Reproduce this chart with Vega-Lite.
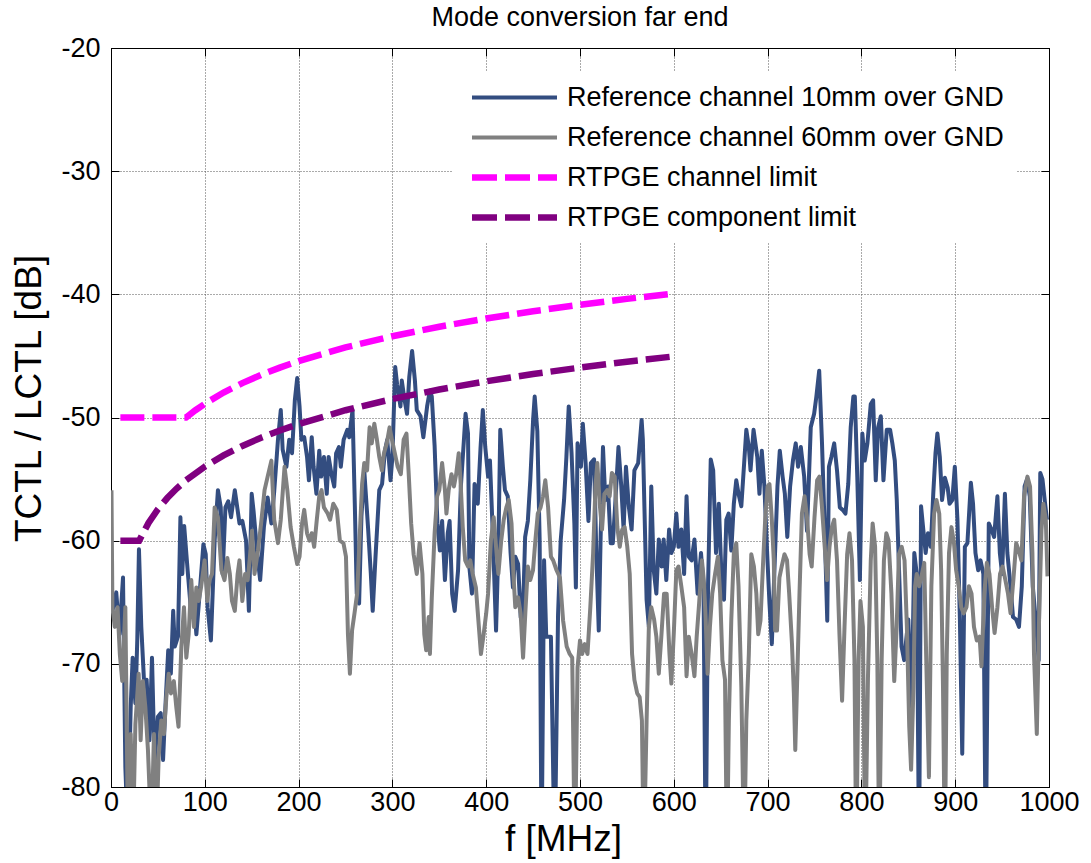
{
  "$schema": "https://vega.github.io/schema/vega-lite/v6.json",
  "width": 938,
  "height": 739,
  "autosize": {"type": "none"},
  "padding": {"left": 111, "top": 48, "right": 42, "bottom": 76},
  "background": "white",
  "title": {"text": "Mode conversion far end", "fontSize": 27, "font": "Liberation Sans", "fontWeight": "normal", "color": "black", "offset": 2, "anchor": "middle"},
  "datasets": {
    "traces": [
      {"s":"10mm","f":1,"v":-65.9},{"s":"10mm","f":5.6,"v":-64.2},{"s":"10mm","f":9,"v":-67.6},{"s":"10mm","f":12.8,"v":-63},{"s":"10mm","f":15.3,"v":-78.4},{"s":"10mm","f":18,"v":-84},{"s":"10mm","f":21,"v":-73.5},{"s":"10mm","f":23.1,"v":-69.5},{"s":"10mm","f":26,"v":-73.2},{"s":"10mm","f":28,"v":-68.1},{"s":"10mm","f":29.8,"v":-60.7},{"s":"10mm","f":32.3,"v":-67},{"s":"10mm","f":35.2,"v":-71.4},{"s":"10mm","f":38,"v":-71.3},{"s":"10mm","f":41,"v":-76.2},{"s":"10mm","f":43.7,"v":-69.5},{"s":"10mm","f":46.5,"v":-78.1},{"s":"10mm","f":50,"v":-74.3},{"s":"10mm","f":53,"v":-74},{"s":"10mm","f":55.5,"v":-77.8},{"s":"10mm","f":58,"v":-73.5},{"s":"10mm","f":61,"v":-68.9},{"s":"10mm","f":63.8,"v":-70.8},{"s":"10mm","f":66.3,"v":-65.7},{"s":"10mm","f":68,"v":-68.6},{"s":"10mm","f":71.4,"v":-67.8},{"s":"10mm","f":74,"v":-58.1},{"s":"10mm","f":76,"v":-62.7},{"s":"10mm","f":78,"v":-58.8},{"s":"10mm","f":82,"v":-62.7},{"s":"10mm","f":85.6,"v":-66},{"s":"10mm","f":88,"v":-64.6},{"s":"10mm","f":91,"v":-67.6},{"s":"10mm","f":95,"v":-63.8},{"s":"10mm","f":98.5,"v":-60.3},{"s":"10mm","f":101,"v":-61.1},{"s":"10mm","f":103,"v":-65.4},{"s":"10mm","f":106.5,"v":-68.1},{"s":"10mm","f":110.5,"v":-60},{"s":"10mm","f":114,"v":-55.9},{"s":"10mm","f":117,"v":-57.3},{"s":"10mm","f":119,"v":-62.7},{"s":"10mm","f":122,"v":-57.3},{"s":"10mm","f":125,"v":-56.8},{"s":"10mm","f":128,"v":-58.1},{"s":"10mm","f":132,"v":-55.9},{"s":"10mm","f":137,"v":-58.6},{"s":"10mm","f":140,"v":-58.4},{"s":"10mm","f":144,"v":-60},{"s":"10mm","f":147,"v":-65.7},{"s":"10mm","f":150,"v":-56.2},{"s":"10mm","f":152,"v":-57.6},{"s":"10mm","f":156,"v":-61.1},{"s":"10mm","f":159,"v":-63.2},{"s":"10mm","f":163,"v":-58.9},{"s":"10mm","f":167,"v":-56.5},{"s":"10mm","f":171,"v":-58.6},{"s":"10mm","f":174,"v":-56},{"s":"10mm","f":178,"v":-51.8},{"s":"10mm","f":181,"v":-49.4},{"s":"10mm","f":183,"v":-52.6},{"s":"10mm","f":187,"v":-54},{"s":"10mm","f":190,"v":-51.8},{"s":"10mm","f":193,"v":-52.9},{"s":"10mm","f":196,"v":-48.6},{"s":"10mm","f":198.5,"v":-46.8},{"s":"10mm","f":201,"v":-49.1},{"s":"10mm","f":203,"v":-51.8},{"s":"10mm","f":206,"v":-51.6},{"s":"10mm","f":209,"v":-53.2},{"s":"10mm","f":211,"v":-55.1},{"s":"10mm","f":214,"v":-51.6},{"s":"10mm","f":216,"v":-54},{"s":"10mm","f":219,"v":-56.2},{"s":"10mm","f":222,"v":-52.7},{"s":"10mm","f":224,"v":-54.8},{"s":"10mm","f":227,"v":-53.2},{"s":"10mm","f":230,"v":-56.2},{"s":"10mm","f":232,"v":-53.2},{"s":"10mm","f":235,"v":-54.6},{"s":"10mm","f":238,"v":-55.6},{"s":"10mm","f":240,"v":-52.9},{"s":"10mm","f":243,"v":-52.4},{"s":"10mm","f":245,"v":-54},{"s":"10mm","f":248,"v":-51.8},{"s":"10mm","f":252,"v":-51},{"s":"10mm","f":254,"v":-51.6},{"s":"10mm","f":257.5,"v":-49.4},{"s":"10mm","f":260,"v":-57.3},{"s":"10mm","f":262,"v":-64.3},{"s":"10mm","f":264.5,"v":-65.1},{"s":"10mm","f":267,"v":-58},{"s":"10mm","f":270,"v":-54.3},{"s":"10mm","f":274,"v":-58.9},{"s":"10mm","f":277,"v":-62.7},{"s":"10mm","f":279,"v":-65.7},{"s":"10mm","f":282,"v":-61.3},{"s":"10mm","f":286,"v":-55.9},{"s":"10mm","f":289,"v":-55.4},{"s":"10mm","f":292,"v":-52.7},{"s":"10mm","f":294.5,"v":-51.8},{"s":"10mm","f":298,"v":-55.1},{"s":"10mm","f":300,"v":-53.2},{"s":"10mm","f":303,"v":-45.9},{"s":"10mm","f":305,"v":-47.3},{"s":"10mm","f":308.6,"v":-49.1},{"s":"10mm","f":310,"v":-47},{"s":"10mm","f":313,"v":-48.6},{"s":"10mm","f":315.6,"v":-49.7},{"s":"10mm","f":318,"v":-46.7},{"s":"10mm","f":321,"v":-44.6},{"s":"10mm","f":324,"v":-47},{"s":"10mm","f":326,"v":-49.4},{"s":"10mm","f":330,"v":-49.9},{"s":"10mm","f":333,"v":-51.6},{"s":"10mm","f":337,"v":-49.1},{"s":"10mm","f":340,"v":-47.8},{"s":"10mm","f":342,"v":-48.3},{"s":"10mm","f":345,"v":-52.3},{"s":"10mm","f":348,"v":-58.6},{"s":"10mm","f":350.6,"v":-60.8},{"s":"10mm","f":353,"v":-58.4},{"s":"10mm","f":356,"v":-63.2},{"s":"10mm","f":359,"v":-59.4},{"s":"10mm","f":361,"v":-58.4},{"s":"10mm","f":363.7,"v":-64.3},{"s":"10mm","f":366.4,"v":-65.7},{"s":"10mm","f":370,"v":-62.4},{"s":"10mm","f":373,"v":-55.6},{"s":"10mm","f":376,"v":-52.1},{"s":"10mm","f":378,"v":-49.7},{"s":"10mm","f":380.6,"v":-51.3},{"s":"10mm","f":382,"v":-62.1},{"s":"10mm","f":384.8,"v":-64.3},{"s":"10mm","f":387.6,"v":-55.4},{"s":"10mm","f":391,"v":-57},{"s":"10mm","f":394,"v":-52.4},{"s":"10mm","f":396.4,"v":-49.4},{"s":"10mm","f":399,"v":-52.4},{"s":"10mm","f":402,"v":-54.8},{"s":"10mm","f":404,"v":-53.5},{"s":"10mm","f":407,"v":-59.4},{"s":"10mm","f":410.5,"v":-67.3},{"s":"10mm","f":413,"v":-60.5},{"s":"10mm","f":415,"v":-51},{"s":"10mm","f":417.8,"v":-54},{"s":"10mm","f":420,"v":-55.9},{"s":"10mm","f":423,"v":-56.4},{"s":"10mm","f":426,"v":-61},{"s":"10mm","f":428.5,"v":-63.8},{"s":"10mm","f":431,"v":-61.3},{"s":"10mm","f":434,"v":-61.9},{"s":"10mm","f":436.8,"v":-66.2},{"s":"10mm","f":439,"v":-66.5},{"s":"10mm","f":441.5,"v":-59.7},{"s":"10mm","f":444.4,"v":-58.4},{"s":"10mm","f":447,"v":-55.1},{"s":"10mm","f":450,"v":-50.2},{"s":"10mm","f":451.7,"v":-48.3},{"s":"10mm","f":454.5,"v":-51.1},{"s":"10mm","f":457,"v":-60},{"s":"10mm","f":459,"v":-86},{"s":"10mm","f":461.7,"v":-61.6},{"s":"10mm","f":464,"v":-67.8},{"s":"10mm","f":469,"v":-67.8},{"s":"10mm","f":473,"v":-86},{"s":"10mm","f":476.6,"v":-66},{"s":"10mm","f":479.4,"v":-60},{"s":"10mm","f":483,"v":-56.7},{"s":"10mm","f":485.5,"v":-53.2},{"s":"10mm","f":488,"v":-49.1},{"s":"10mm","f":491,"v":-52.9},{"s":"10mm","f":494,"v":-58.6},{"s":"10mm","f":495.6,"v":-63.8},{"s":"10mm","f":497.4,"v":-52.1},{"s":"10mm","f":501,"v":-54},{"s":"10mm","f":503,"v":-50.5},{"s":"10mm","f":506,"v":-53.7},{"s":"10mm","f":509,"v":-58.4},{"s":"10mm","f":511.6,"v":-53.7},{"s":"10mm","f":515,"v":-53.4},{"s":"10mm","f":517.4,"v":-61},{"s":"10mm","f":520,"v":-67.3},{"s":"10mm","f":522,"v":-59.7},{"s":"10mm","f":524.5,"v":-52.4},{"s":"10mm","f":527,"v":-56.7},{"s":"10mm","f":529.8,"v":-55.6},{"s":"10mm","f":532.7,"v":-60.2},{"s":"10mm","f":535,"v":-60.2},{"s":"10mm","f":537.6,"v":-57},{"s":"10mm","f":541,"v":-52.4},{"s":"10mm","f":544,"v":-55.6},{"s":"10mm","f":546.5,"v":-59.1},{"s":"10mm","f":549,"v":-54},{"s":"10mm","f":552,"v":-57.2},{"s":"10mm","f":555,"v":-59.1},{"s":"10mm","f":558,"v":-54.3},{"s":"10mm","f":562,"v":-53.7},{"s":"10mm","f":565.7,"v":-50.2},{"s":"10mm","f":567,"v":-51.8},{"s":"10mm","f":571,"v":-64.8},{"s":"10mm","f":573.4,"v":-67},{"s":"10mm","f":576,"v":-55.6},{"s":"10mm","f":578.6,"v":-62.4},{"s":"10mm","f":581.4,"v":-64.3},{"s":"10mm","f":584,"v":-59.9},{"s":"10mm","f":587,"v":-62.1},{"s":"10mm","f":589.2,"v":-59.9},{"s":"10mm","f":592,"v":-63.2},{"s":"10mm","f":595,"v":-59.1},{"s":"10mm","f":597.4,"v":-61},{"s":"10mm","f":600,"v":-60.5},{"s":"10mm","f":602.7,"v":-57.8},{"s":"10mm","f":605,"v":-60.5},{"s":"10mm","f":608,"v":-59.1},{"s":"10mm","f":611,"v":-62.7},{"s":"10mm","f":613.6,"v":-56.4},{"s":"10mm","f":616,"v":-61.3},{"s":"10mm","f":619,"v":-61.6},{"s":"10mm","f":622,"v":-59.9},{"s":"10mm","f":625.4,"v":-64.3},{"s":"10mm","f":629,"v":-61},{"s":"10mm","f":631.7,"v":-63.7},{"s":"10mm","f":634,"v":-86},{"s":"10mm","f":636.5,"v":-63.7},{"s":"10mm","f":639.4,"v":-53.4},{"s":"10mm","f":642,"v":-54.3},{"s":"10mm","f":645,"v":-61},{"s":"10mm","f":648,"v":-57},{"s":"10mm","f":650.6,"v":-62.4},{"s":"10mm","f":653.5,"v":-64.8},{"s":"10mm","f":656,"v":-58.3},{"s":"10mm","f":658.5,"v":-57.8},{"s":"10mm","f":661.3,"v":-60.8},{"s":"10mm","f":664,"v":-57},{"s":"10mm","f":666.6,"v":-55.1},{"s":"10mm","f":669,"v":-56.2},{"s":"10mm","f":672,"v":-57.2},{"s":"10mm","f":675,"v":-53.7},{"s":"10mm","f":677.3,"v":-51},{"s":"10mm","f":680,"v":-52.4},{"s":"10mm","f":681.8,"v":-54.3},{"s":"10mm","f":685,"v":-51},{"s":"10mm","f":689,"v":-53.2},{"s":"10mm","f":691.3,"v":-56.2},{"s":"10mm","f":693.8,"v":-52.7},{"s":"10mm","f":696.6,"v":-55.6},{"s":"10mm","f":699.4,"v":-60.8},{"s":"10mm","f":702,"v":-65.1},{"s":"10mm","f":704.5,"v":-68.4},{"s":"10mm","f":707,"v":-63},{"s":"10mm","f":710.5,"v":-55.6},{"s":"10mm","f":713,"v":-52.7},{"s":"10mm","f":716,"v":-54.8},{"s":"10mm","f":718.4,"v":-56.2},{"s":"10mm","f":721,"v":-59.7},{"s":"10mm","f":724,"v":-55.6},{"s":"10mm","f":727,"v":-53.5},{"s":"10mm","f":730,"v":-52.1},{"s":"10mm","f":732.5,"v":-54},{"s":"10mm","f":735.4,"v":-52.4},{"s":"10mm","f":739,"v":-54.8},{"s":"10mm","f":742,"v":-59.2},{"s":"10mm","f":746,"v":-50.8},{"s":"10mm","f":749.6,"v":-49.7},{"s":"10mm","f":752,"v":-48.3},{"s":"10mm","f":755,"v":-46.2},{"s":"10mm","f":758,"v":-52.1},{"s":"10mm","f":760.8,"v":-58.9},{"s":"10mm","f":763.6,"v":-66.5},{"s":"10mm","f":765.4,"v":-54},{"s":"10mm","f":768,"v":-53.2},{"s":"10mm","f":771,"v":-52.1},{"s":"10mm","f":774,"v":-54.3},{"s":"10mm","f":777,"v":-57.3},{"s":"10mm","f":780,"v":-57.5},{"s":"10mm","f":783,"v":-57.8},{"s":"10mm","f":786,"v":-55.4},{"s":"10mm","f":788.6,"v":-50.8},{"s":"10mm","f":791.4,"v":-48.3},{"s":"10mm","f":793,"v":-48.3},{"s":"10mm","f":795.6,"v":-54.8},{"s":"10mm","f":798.4,"v":-63.2},{"s":"10mm","f":801,"v":-51.3},{"s":"10mm","f":803.5,"v":-53.5},{"s":"10mm","f":806.4,"v":-52.1},{"s":"10mm","f":810,"v":-48.9},{"s":"10mm","f":812.5,"v":-48.6},{"s":"10mm","f":815.3,"v":-55.1},{"s":"10mm","f":817.8,"v":-50.8},{"s":"10mm","f":820.7,"v":-49.9},{"s":"10mm","f":823.5,"v":-55.1},{"s":"10mm","f":827,"v":-51},{"s":"10mm","f":830.6,"v":-51},{"s":"10mm","f":833,"v":-52.1},{"s":"10mm","f":835.6,"v":-53.5},{"s":"10mm","f":837.7,"v":-56.7},{"s":"10mm","f":840,"v":-62.1},{"s":"10mm","f":842.8,"v":-68.6},{"s":"10mm","f":845.6,"v":-69.7},{"s":"10mm","f":850,"v":-66.4},{"s":"10mm","f":853.5,"v":-73.5},{"s":"10mm","f":856.4,"v":-61},{"s":"10mm","f":859,"v":-62.7},{"s":"10mm","f":861.5,"v":-86},{"s":"10mm","f":863.6,"v":-57.2},{"s":"10mm","f":866,"v":-59.1},{"s":"10mm","f":868.5,"v":-61},{"s":"10mm","f":871,"v":-59.4},{"s":"10mm","f":874,"v":-60.5},{"s":"10mm","f":876.6,"v":-56.2},{"s":"10mm","f":879,"v":-52.9},{"s":"10mm","f":881,"v":-51.3},{"s":"10mm","f":883.6,"v":-53.2},{"s":"10mm","f":886,"v":-56.7},{"s":"10mm","f":889,"v":-54.9},{"s":"10mm","f":892,"v":-55.7},{"s":"10mm","f":894,"v":-57},{"s":"10mm","f":896.9,"v":-56.7},{"s":"10mm","f":899.6,"v":-54},{"s":"10mm","f":902.4,"v":-58.3},{"s":"10mm","f":905,"v":-66.4},{"s":"10mm","f":907.5,"v":-77.3},{"s":"10mm","f":910.3,"v":-60.5},{"s":"10mm","f":913,"v":-60.2},{"s":"10mm","f":916.7,"v":-55.3},{"s":"10mm","f":919,"v":-57},{"s":"10mm","f":921.6,"v":-61},{"s":"10mm","f":924.5,"v":-62.4},{"s":"10mm","f":927,"v":-61.6},{"s":"10mm","f":930,"v":-62.7},{"s":"10mm","f":932.6,"v":-86},{"s":"10mm","f":935.8,"v":-58.6},{"s":"10mm","f":938.7,"v":-59.1},{"s":"10mm","f":941.5,"v":-59.7},{"s":"10mm","f":945,"v":-56.4},{"s":"10mm","f":947.6,"v":-61},{"s":"10mm","f":950,"v":-62.7},{"s":"10mm","f":953,"v":-56.2},{"s":"10mm","f":955.6,"v":-61},{"s":"10mm","f":959,"v":-63.7},{"s":"10mm","f":961.6,"v":-66.2},{"s":"10mm","f":965,"v":-66.4},{"s":"10mm","f":968,"v":-67},{"s":"10mm","f":971,"v":-63.7},{"s":"10mm","f":974,"v":-55.6},{"s":"10mm","f":976.6,"v":-55},{"s":"10mm","f":979.5,"v":-56.4},{"s":"10mm","f":982.7,"v":-63.7},{"s":"10mm","f":987,"v":-67.5},{"s":"10mm","f":989,"v":-69.7},{"s":"10mm","f":990.7,"v":-54.5},{"s":"10mm","f":993,"v":-55},{"s":"10mm","f":995.7,"v":-56.9},{"s":"10mm","f":997.8,"v":-58.3},

      {"s":"60mm","f":0.5,"v":-55.9},{"s":"60mm","f":1.5,"v":-65.4},{"s":"60mm","f":4,"v":-67},{"s":"60mm","f":7,"v":-65.4},{"s":"60mm","f":9.4,"v":-69.2},{"s":"60mm","f":12,"v":-71.4},{"s":"60mm","f":15.3,"v":-65.4},{"s":"60mm","f":18.1,"v":-84},{"s":"60mm","f":21,"v":-75.7},{"s":"60mm","f":23.5,"v":-84},{"s":"60mm","f":26,"v":-74.9},{"s":"60mm","f":29.5,"v":-70.8},{"s":"60mm","f":31.6,"v":-76.2},{"s":"60mm","f":34,"v":-71.4},{"s":"60mm","f":36.6,"v":-73.5},{"s":"60mm","f":39.4,"v":-77},{"s":"60mm","f":43,"v":-84},{"s":"60mm","f":45.8,"v":-75.7},{"s":"60mm","f":48.3,"v":-84},{"s":"60mm","f":50.8,"v":-77.6},{"s":"60mm","f":53.6,"v":-74.6},{"s":"60mm","f":56.4,"v":-75.7},{"s":"60mm","f":59,"v":-72.7},{"s":"60mm","f":61.5,"v":-70.8},{"s":"60mm","f":64,"v":-72.4},{"s":"60mm","f":67,"v":-71.4},{"s":"60mm","f":69.6,"v":-73.5},{"s":"60mm","f":72,"v":-75.1},{"s":"60mm","f":75,"v":-68.6},{"s":"60mm","f":77.8,"v":-65.4},{"s":"60mm","f":80.3,"v":-69.5},{"s":"60mm","f":82.8,"v":-67.6},{"s":"60mm","f":85.6,"v":-63.2},{"s":"60mm","f":88.4,"v":-67},{"s":"60mm","f":91,"v":-63.8},{"s":"60mm","f":93.5,"v":-64.9},{"s":"60mm","f":96,"v":-63.8},{"s":"60mm","f":99.8,"v":-61.6},{"s":"60mm","f":102.7,"v":-64.9},{"s":"60mm","f":105,"v":-63.2},{"s":"60mm","f":107.7,"v":-62.7},{"s":"60mm","f":110.5,"v":-57.3},{"s":"60mm","f":114,"v":-58.1},{"s":"60mm","f":117.7,"v":-62.4},{"s":"60mm","f":121,"v":-63.2},{"s":"60mm","f":124,"v":-61.4},{"s":"60mm","f":126.7,"v":-62.7},{"s":"60mm","f":129,"v":-64.9},{"s":"60mm","f":132,"v":-65.7},{"s":"60mm","f":135,"v":-62.7},{"s":"60mm","f":137,"v":-61.6},{"s":"60mm","f":140,"v":-64.9},{"s":"60mm","f":143,"v":-62.7},{"s":"60mm","f":145.7,"v":-63.2},{"s":"60mm","f":148,"v":-61.4},{"s":"60mm","f":150.3,"v":-59.2},{"s":"60mm","f":153,"v":-62.7},{"s":"60mm","f":156.7,"v":-60.8},{"s":"60mm","f":160,"v":-58.6},{"s":"60mm","f":163.7,"v":-55.9},{"s":"60mm","f":167,"v":-54.8},{"s":"60mm","f":171,"v":-53.5},{"s":"60mm","f":174,"v":-58.3},{"s":"60mm","f":178,"v":-60.2},{"s":"60mm","f":181,"v":-58.3},{"s":"60mm","f":185,"v":-54},{"s":"60mm","f":188,"v":-55.9},{"s":"60mm","f":191.5,"v":-58.9},{"s":"60mm","f":195,"v":-60.5},{"s":"60mm","f":198.5,"v":-61.9},{"s":"60mm","f":201,"v":-61.3},{"s":"60mm","f":203.7,"v":-58.6},{"s":"60mm","f":206,"v":-57.5},{"s":"60mm","f":209,"v":-59.4},{"s":"60mm","f":211.6,"v":-60},{"s":"60mm","f":214,"v":-59.4},{"s":"60mm","f":216.6,"v":-60.5},{"s":"60mm","f":219.4,"v":-58.3},{"s":"60mm","f":222,"v":-56.4},{"s":"60mm","f":224.5,"v":-55.9},{"s":"60mm","f":227,"v":-57.3},{"s":"60mm","f":231,"v":-57.8},{"s":"60mm","f":233.6,"v":-58.3},{"s":"60mm","f":237,"v":-57},{"s":"60mm","f":240.7,"v":-57.5},{"s":"60mm","f":244,"v":-60},{"s":"60mm","f":247.8,"v":-60.2},{"s":"60mm","f":250.5,"v":-61.3},{"s":"60mm","f":252.6,"v":-67.6},{"s":"60mm","f":254.7,"v":-70.8},{"s":"60mm","f":257,"v":-67.3},{"s":"60mm","f":259.6,"v":-65.9},{"s":"60mm","f":262.4,"v":-64.3},{"s":"60mm","f":265.3,"v":-59.4},{"s":"60mm","f":267.7,"v":-55.4},{"s":"60mm","f":270,"v":-53.7},{"s":"60mm","f":273,"v":-54.3},{"s":"60mm","f":275.7,"v":-50.8},{"s":"60mm","f":278,"v":-52.1},{"s":"60mm","f":280.7,"v":-50.5},{"s":"60mm","f":283.5,"v":-51.8},{"s":"60mm","f":286,"v":-53.2},{"s":"60mm","f":288.8,"v":-54.3},{"s":"60mm","f":291,"v":-52.9},{"s":"60mm","f":294,"v":-52.1},{"s":"60mm","f":297,"v":-50.8},{"s":"60mm","f":299.5,"v":-51.8},{"s":"60mm","f":302,"v":-52.7},{"s":"60mm","f":305.6,"v":-54},{"s":"60mm","f":309,"v":-54.6},{"s":"60mm","f":312,"v":-51.8},{"s":"60mm","f":315,"v":-51.3},{"s":"60mm","f":317.4,"v":-54.6},{"s":"60mm","f":320,"v":-58.6},{"s":"60mm","f":322.6,"v":-61.1},{"s":"60mm","f":326,"v":-62.7},{"s":"60mm","f":329,"v":-60.2},{"s":"60mm","f":332,"v":-62.7},{"s":"60mm","f":334,"v":-67.6},{"s":"60mm","f":336,"v":-68.9},{"s":"60mm","f":338.7,"v":-66.2},{"s":"60mm","f":340,"v":-69.2},{"s":"60mm","f":342,"v":-64.6},{"s":"60mm","f":345,"v":-59.4},{"s":"60mm","f":347.7,"v":-56.4},{"s":"60mm","f":350,"v":-55.9},{"s":"60mm","f":353,"v":-53.7},{"s":"60mm","f":356,"v":-55.9},{"s":"60mm","f":357.6,"v":-57.8},{"s":"60mm","f":360,"v":-55.9},{"s":"60mm","f":363,"v":-54.6},{"s":"60mm","f":365.6,"v":-55.6},{"s":"60mm","f":368,"v":-54.6},{"s":"60mm","f":370.7,"v":-52.9},{"s":"60mm","f":372.6,"v":-55.1},{"s":"60mm","f":375,"v":-58.9},{"s":"60mm","f":377.6,"v":-61.6},{"s":"60mm","f":380.6,"v":-62.1},{"s":"60mm","f":383,"v":-61.6},{"s":"60mm","f":385.6,"v":-62.7},{"s":"60mm","f":389,"v":-63.8},{"s":"60mm","f":391.7,"v":-66.5},{"s":"60mm","f":394.4,"v":-69.2},{"s":"60mm","f":397.3,"v":-67.6},{"s":"60mm","f":400,"v":-65.9},{"s":"60mm","f":402,"v":-64.3},{"s":"60mm","f":405,"v":-60},{"s":"60mm","f":408,"v":-58.1},{"s":"60mm","f":410.5,"v":-60.5},{"s":"60mm","f":413,"v":-62.7},{"s":"60mm","f":416,"v":-60},{"s":"60mm","f":418.7,"v":-58.3},{"s":"60mm","f":421.5,"v":-57.3},{"s":"60mm","f":424,"v":-56.7},{"s":"60mm","f":427,"v":-58.6},{"s":"60mm","f":429,"v":-62.7},{"s":"60mm","f":431,"v":-65.4},{"s":"60mm","f":434,"v":-64.6},{"s":"60mm","f":436.7,"v":-65.9},{"s":"60mm","f":439.3,"v":-69.5},{"s":"60mm","f":441.7,"v":-65.9},{"s":"60mm","f":444.4,"v":-62.1},{"s":"60mm","f":447,"v":-63.2},{"s":"60mm","f":449.9,"v":-62.4},{"s":"60mm","f":452.4,"v":-60},{"s":"60mm","f":455,"v":-57.8},{"s":"60mm","f":458,"v":-57.3},{"s":"60mm","f":460.6,"v":-56.4},{"s":"60mm","f":463,"v":-55.1},{"s":"60mm","f":466,"v":-57.3},{"s":"60mm","f":469,"v":-61.3},{"s":"60mm","f":471.4,"v":-61.6},{"s":"60mm","f":475,"v":-62.4},{"s":"60mm","f":478.6,"v":-63},{"s":"60mm","f":482,"v":-66.5},{"s":"60mm","f":485.8,"v":-68.6},{"s":"60mm","f":489,"v":-69.2},{"s":"60mm","f":491.7,"v":-69.5},{"s":"60mm","f":494.5,"v":-86},{"s":"60mm","f":497.4,"v":-70.3},{"s":"60mm","f":500,"v":-68.1},{"s":"60mm","f":502.3,"v":-69.2},{"s":"60mm","f":505,"v":-68.4},{"s":"60mm","f":508,"v":-69.2},{"s":"60mm","f":511,"v":-65.4},{"s":"60mm","f":514,"v":-61},{"s":"60mm","f":516.5,"v":-55.6},{"s":"60mm","f":518.5,"v":-53.7},{"s":"60mm","f":521,"v":-57},{"s":"60mm","f":523.5,"v":-59.1},{"s":"60mm","f":526,"v":-56.2},{"s":"60mm","f":529,"v":-55.9},{"s":"60mm","f":531.6,"v":-56.4},{"s":"60mm","f":534,"v":-54.5},{"s":"60mm","f":537,"v":-54.8},{"s":"60mm","f":539.8,"v":-58.9},{"s":"60mm","f":542.4,"v":-60.5},{"s":"60mm","f":545,"v":-59.1},{"s":"60mm","f":547.6,"v":-58.9},{"s":"60mm","f":550.4,"v":-60.5},{"s":"60mm","f":553,"v":-62.7},{"s":"60mm","f":555.5,"v":-69.2},{"s":"60mm","f":558,"v":-71.3},{"s":"60mm","f":561,"v":-72.4},{"s":"60mm","f":563.6,"v":-72.7},{"s":"60mm","f":566,"v":-74.6},{"s":"60mm","f":568,"v":-86},{"s":"60mm","f":571,"v":-74.6},{"s":"60mm","f":573.4,"v":-67},{"s":"60mm","f":576,"v":-65.4},{"s":"60mm","f":579,"v":-66.4},{"s":"60mm","f":581.4,"v":-67.8},{"s":"60mm","f":584,"v":-70.8},{"s":"60mm","f":586.7,"v":-67.8},{"s":"60mm","f":589.6,"v":-64.3},{"s":"60mm","f":592.4,"v":-64.3},{"s":"60mm","f":595.4,"v":-69.2},{"s":"60mm","f":597.4,"v":-71.6},{"s":"60mm","f":600,"v":-67.5},{"s":"60mm","f":602.7,"v":-62.4},{"s":"60mm","f":605,"v":-62.1},{"s":"60mm","f":608,"v":-63.7},{"s":"60mm","f":611,"v":-65.4},{"s":"60mm","f":613.6,"v":-71},{"s":"60mm","f":616,"v":-67.8},{"s":"60mm","f":619,"v":-69.2},{"s":"60mm","f":622,"v":-71},{"s":"60mm","f":624.4,"v":-67.8},{"s":"60mm","f":627,"v":-65.1},{"s":"60mm","f":630,"v":-61.6},{"s":"60mm","f":632,"v":-63.2},{"s":"60mm","f":634,"v":-66.4},{"s":"60mm","f":636,"v":-70.8},{"s":"60mm","f":638.5,"v":-67},{"s":"60mm","f":641,"v":-64.3},{"s":"60mm","f":644,"v":-62.7},{"s":"60mm","f":647,"v":-61.3},{"s":"60mm","f":649.4,"v":-64.3},{"s":"60mm","f":651.8,"v":-69.7},{"s":"60mm","f":654.6,"v":-71.3},{"s":"60mm","f":656.7,"v":-86},{"s":"60mm","f":658.7,"v":-74.6},{"s":"60mm","f":661.3,"v":-66.4},{"s":"60mm","f":664,"v":-61},{"s":"60mm","f":666.6,"v":-60.2},{"s":"60mm","f":669,"v":-63.7},{"s":"60mm","f":672,"v":-71.9},{"s":"60mm","f":675,"v":-86},{"s":"60mm","f":677.3,"v":-74.6},{"s":"60mm","f":680,"v":-69.2},{"s":"60mm","f":682.6,"v":-61.1},{"s":"60mm","f":685.4,"v":-62.1},{"s":"60mm","f":688,"v":-64.3},{"s":"60mm","f":690,"v":-67.6},{"s":"60mm","f":692.4,"v":-66.5},{"s":"60mm","f":695,"v":-62.1},{"s":"60mm","f":697.4,"v":-58.3},{"s":"60mm","f":700,"v":-55.6},{"s":"60mm","f":702,"v":-55.4},{"s":"60mm","f":704.5,"v":-58.3},{"s":"60mm","f":706.6,"v":-61.6},{"s":"60mm","f":708,"v":-67.3},{"s":"60mm","f":710,"v":-67.3},{"s":"60mm","f":712.6,"v":-63},{"s":"60mm","f":715,"v":-62.1},{"s":"60mm","f":718,"v":-61.1},{"s":"60mm","f":720.7,"v":-61.6},{"s":"60mm","f":723,"v":-64.3},{"s":"60mm","f":726,"v":-68.4},{"s":"60mm","f":728,"v":-72.4},{"s":"60mm","f":729.5,"v":-77},{"s":"60mm","f":731.6,"v":-71.1},{"s":"60mm","f":734,"v":-64.3},{"s":"60mm","f":736.6,"v":-57.8},{"s":"60mm","f":739.4,"v":-56.4},{"s":"60mm","f":742,"v":-58.1},{"s":"60mm","f":744.8,"v":-61.1},{"s":"60mm","f":747,"v":-62.1},{"s":"60mm","f":750,"v":-58.1},{"s":"60mm","f":752.8,"v":-55.1},{"s":"60mm","f":755.3,"v":-54.8},{"s":"60mm","f":758,"v":-57.3},{"s":"60mm","f":760.6,"v":-60.2},{"s":"60mm","f":763.4,"v":-63.2},{"s":"60mm","f":766,"v":-60.5},{"s":"60mm","f":768.5,"v":-58.9},{"s":"60mm","f":771,"v":-58.3},{"s":"60mm","f":774,"v":-61.6},{"s":"60mm","f":776.6,"v":-67.6},{"s":"60mm","f":779.4,"v":-73},{"s":"60mm","f":782,"v":-67},{"s":"60mm","f":784.8,"v":-61.1},{"s":"60mm","f":787.3,"v":-59.4},{"s":"60mm","f":790,"v":-61.6},{"s":"60mm","f":792.6,"v":-69.7},{"s":"60mm","f":794.5,"v":-86},{"s":"60mm","f":797,"v":-69.7},{"s":"60mm","f":799,"v":-64.9},{"s":"60mm","f":801.6,"v":-67},{"s":"60mm","f":804,"v":-86},{"s":"60mm","f":807,"v":-71.1},{"s":"60mm","f":810,"v":-61.6},{"s":"60mm","f":812,"v":-58.6},{"s":"60mm","f":814.6,"v":-60.5},{"s":"60mm","f":817,"v":-69.7},{"s":"60mm","f":819,"v":-86},{"s":"60mm","f":821.6,"v":-69.7},{"s":"60mm","f":824,"v":-61.6},{"s":"60mm","f":826.6,"v":-59.4},{"s":"60mm","f":829,"v":-60},{"s":"60mm","f":832,"v":-64.3},{"s":"60mm","f":835,"v":-71.4},{"s":"60mm","f":837.6,"v":-67},{"s":"60mm","f":840,"v":-61.1},{"s":"60mm","f":843,"v":-60.5},{"s":"60mm","f":846,"v":-61.6},{"s":"60mm","f":848.5,"v":-67},{"s":"60mm","f":851,"v":-75.1},{"s":"60mm","f":853,"v":-78.6},{"s":"60mm","f":855.5,"v":-71.9},{"s":"60mm","f":857.2,"v":-63.7},{"s":"60mm","f":859,"v":-62.7},{"s":"60mm","f":861.5,"v":-63.7},{"s":"60mm","f":864,"v":-62.9},{"s":"60mm","f":867,"v":-61.8},{"s":"60mm","f":869,"v":-69.2},{"s":"60mm","f":872,"v":-79.2},{"s":"60mm","f":874.6,"v":-63.7},{"s":"60mm","f":877.5,"v":-57.8},{"s":"60mm","f":880,"v":-56.7},{"s":"60mm","f":883,"v":-57.8},{"s":"60mm","f":885,"v":-62.4},{"s":"60mm","f":887,"v":-71.9},{"s":"60mm","f":889,"v":-86},{"s":"60mm","f":891,"v":-69.2},{"s":"60mm","f":893.4,"v":-61},{"s":"60mm","f":896,"v":-58.9},{"s":"60mm","f":898.7,"v":-60.2},{"s":"60mm","f":901,"v":-62.4},{"s":"60mm","f":903.7,"v":-63.7},{"s":"60mm","f":906.4,"v":-65.4},{"s":"60mm","f":909,"v":-65.9},{"s":"60mm","f":912,"v":-65.4},{"s":"60mm","f":914.6,"v":-63.7},{"s":"60mm","f":917.4,"v":-64.3},{"s":"60mm","f":920,"v":-67},{"s":"60mm","f":923,"v":-68.1},{"s":"60mm","f":926,"v":-67.8},{"s":"60mm","f":928,"v":-70.2},{"s":"60mm","f":931,"v":-64.3},{"s":"60mm","f":933.7,"v":-61.8},{"s":"60mm","f":936.5,"v":-62.7},{"s":"60mm","f":939.3,"v":-65.4},{"s":"60mm","f":942,"v":-67.5},{"s":"60mm","f":945,"v":-65.4},{"s":"60mm","f":947.8,"v":-62.7},{"s":"60mm","f":950.6,"v":-62.1},{"s":"60mm","f":953.5,"v":-63.2},{"s":"60mm","f":956.3,"v":-64.3},{"s":"60mm","f":959,"v":-65.9},{"s":"60mm","f":962,"v":-63.2},{"s":"60mm","f":965,"v":-60.2},{"s":"60mm","f":967.7,"v":-60.8},{"s":"60mm","f":970.6,"v":-61.6},{"s":"60mm","f":973.4,"v":-56.4},{"s":"60mm","f":977,"v":-54.8},{"s":"60mm","f":979.8,"v":-55.6},{"s":"60mm","f":982.3,"v":-61},{"s":"60mm","f":984,"v":-69.2},{"s":"60mm","f":987,"v":-75.7},{"s":"60mm","f":989.4,"v":-66.4},{"s":"60mm","f":992,"v":-59.1},{"s":"60mm","f":994,"v":-57},{"s":"60mm","f":996.6,"v":-58.3},{"s":"60mm","f":998.4,"v":-62.9},

      {"s":"chan","f":10,"v":-50},{"s":"chan","f":80,"v":-50},{"s":"chan","f":90,"v":-49.41},{"s":"chan","f":100,"v":-48.89},{"s":"chan","f":120,"v":-47.97},{"s":"chan","f":140,"v":-47.21},{"s":"chan","f":160,"v":-46.54},{"s":"chan","f":180,"v":-45.95},{"s":"chan","f":200,"v":-45.42},{"s":"chan","f":250,"v":-44.31},{"s":"chan","f":300,"v":-43.4},{"s":"chan","f":350,"v":-42.63},{"s":"chan","f":400,"v":-41.96},{"s":"chan","f":450,"v":-41.37},{"s":"chan","f":500,"v":-40.85},{"s":"chan","f":550,"v":-40.37},{"s":"chan","f":600,"v":-39.94},

      {"s":"comp","f":10,"v":-60},{"s":"comp","f":30,"v":-60},{"s":"comp","f":40,"v":-58.56},{"s":"comp","f":50,"v":-57.45},{"s":"comp","f":60,"v":-56.54},{"s":"comp","f":70,"v":-55.77},{"s":"comp","f":80,"v":-55.1},{"s":"comp","f":100,"v":-53.99},{"s":"comp","f":120,"v":-53.08},{"s":"comp","f":140,"v":-52.31},{"s":"comp","f":160,"v":-51.64},{"s":"comp","f":180,"v":-51.05},{"s":"comp","f":200,"v":-50.53},{"s":"comp","f":250,"v":-49.41},{"s":"comp","f":300,"v":-48.5},{"s":"comp","f":350,"v":-47.73},{"s":"comp","f":400,"v":-47.06},{"s":"comp","f":450,"v":-46.47},{"s":"comp","f":500,"v":-45.95},{"s":"comp","f":550,"v":-45.47},{"s":"comp","f":600,"v":-45.04}
    ]
  },
  "data": {"name": "traces"},
  "resolve": {"axis": {"x": "independent", "y": "independent"}},
  "layer": [
    {
      "transform": [{"filter": "datum.s == '10mm'"}],
      "mark": {"type": "line", "clip": true, "strokeWidth": 4, "strokeJoin": "round", "strokeCap": "butt"},
      "encoding": {
        "x": {"field": "f", "type": "quantitative", "scale": {"domain": [0, 1000], "nice": false, "zero": false},
              "axis": {"orient": "bottom", "title": "f [MHz]", "values": [0,100,200,300,400,500,600,700,800,900,1000], "labelExpr": "datum.value + ''", "labelFlush": false, "grid": true, "labelPadding": 10, "titlePadding": 6, "titleX": 452}},
        "y": {"field": "v", "type": "quantitative", "scale": {"domain": [-80, -20], "nice": false, "zero": false},
              "axis": {"orient": "left", "title": "TCTL / LCTL [dB]", "values": [-80,-70,-60,-50,-40,-30,-20], "labelExpr": "datum.value + ''", "labelFlush": false, "grid": true, "labelPadding": 19, "titlePadding": 12, "titleY": 350}},
        "order": {"field": "f", "type": "quantitative"},
        "color": {"field": "s", "type": "nominal", "scale": {"domain": ["10mm","60mm","chan","comp"], "range": ["#334D80","#808080","#FF00FF","#800080"]},
                  "legend": {"title": null, "labelLimit": 0,
                             "labelExpr": "datum.label == '10mm' ? 'Reference channel 10mm over GND' : datum.label == '60mm' ? 'Reference channel 60mm over GND' : datum.label == 'chan' ? 'RTPGE channel limit' : 'RTPGE component limit'",
                             "encode": {"symbols": {"update": {
                               "strokeDash": {"signal": "datum.value == 'chan' || datum.value == 'comp' ? [25, 8] : [1, 0]"},
                               "strokeWidth": {"signal": "datum.value == 'chan' || datum.value == 'comp' ? 6.5 : 4"}}}}}}
      }
    },
    {
      "transform": [{"filter": "datum.s == '60mm'"}],
      "mark": {"type": "line", "clip": true, "strokeWidth": 4, "strokeJoin": "round", "strokeCap": "butt"},
      "encoding": {
        "x": {"field": "f", "type": "quantitative", "scale": {"domain": [0, 1000], "nice": false, "zero": false}, "axis": null},
        "y": {"field": "v", "type": "quantitative", "scale": {"domain": [-80, -20], "nice": false, "zero": false}, "axis": null},
        "order": {"field": "f", "type": "quantitative"},
        "color": {"field": "s", "type": "nominal"}
      }
    },
    {
      "transform": [{"filter": "datum.s == 'chan'"}],
      "mark": {"type": "line", "clip": true, "strokeWidth": 6.5, "strokeDash": [24, 8], "strokeJoin": "miter", "strokeCap": "butt"},
      "encoding": {
        "x": {"field": "f", "type": "quantitative", "scale": {"domain": [0, 1000], "nice": false, "zero": false}, "axis": null},
        "y": {"field": "v", "type": "quantitative", "scale": {"domain": [-80, -20], "nice": false, "zero": false}, "axis": null},
        "order": {"field": "f", "type": "quantitative"},
        "color": {"field": "s", "type": "nominal"}
      }
    },
    {
      "transform": [{"filter": "datum.s == 'comp'"}],
      "mark": {"type": "line", "clip": true, "strokeWidth": 6.5, "strokeDash": [24, 8], "strokeJoin": "miter", "strokeCap": "butt"},
      "encoding": {
        "x": {"field": "f", "type": "quantitative", "scale": {"domain": [0, 1000], "nice": false, "zero": false}, "axis": null},
        "y": {"field": "v", "type": "quantitative", "scale": {"domain": [-80, -20], "nice": false, "zero": false}, "axis": null},
        "order": {"field": "f", "type": "quantitative"},
        "color": {"field": "s", "type": "nominal"}
      }
    },
    {
      "transform": [{"filter": "datum.s == 'comp'"}],
      "mark": {"type": "line", "opacity": 0},
      "encoding": {
        "x": {"field": "f", "type": "quantitative", "scale": {"domain": [0, 1000], "nice": false, "zero": false},
              "axis": {"orient": "top", "title": null, "labels": false, "grid": false, "values": [0,100,200,300,400,500,600,700,800,900,1000]}},
        "y": {"field": "v", "type": "quantitative", "scale": {"domain": [-80, -20], "nice": false, "zero": false},
              "axis": {"orient": "right", "title": null, "labels": false, "grid": false, "values": [-80,-70,-60,-50,-40,-30,-20]}}
      }
    }
  ],
  "config": {
    "view": {"stroke": "black", "strokeWidth": 1},
    "axis": {
      "domainColor": "black", "domainWidth": 1,
      "tickColor": "black", "tickWidth": 1, "tickSize": -8,
      "labelColor": "black", "labelFont": "Liberation Sans", "labelFontSize": 27,
      "titleColor": "black", "titleFont": "Liberation Sans", "titleFontSize": 37, "titleFontWeight": "normal",
      "gridColor": "#555555", "gridDash": [1, 2], "gridOpacity": 1, "gridWidth": 1
    },
    "legend": {
      "orient": "none", "legendX": 341, "legendY": 24,
      "fillColor": "white", "padding": 12,
      "symbolType": "stroke", "symbolSize": 7225, "symbolOffset": 37,
      "labelFont": "Liberation Sans", "labelFontSize": 27, "labelColor": "black",
      "labelOffset": 39, "rowPadding": 12
    }
  }
}
